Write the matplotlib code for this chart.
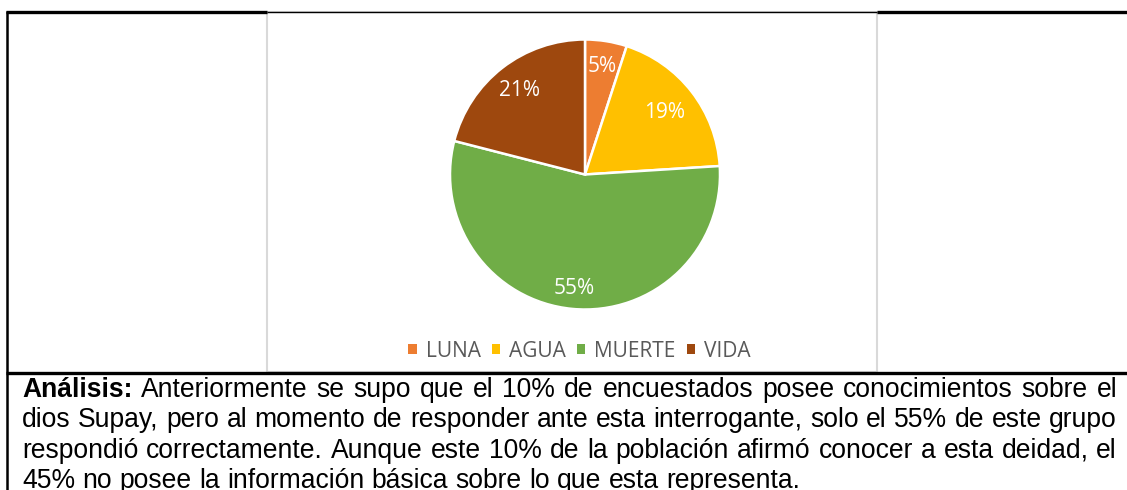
import matplotlib
matplotlib.use("Agg")
import matplotlib.pyplot as plt
from matplotlib.lines import Line2D
from matplotlib.patches import Rectangle, Patch
import math

# ---- data ----
categories = ["LUNA", "AGUA", "MUERTE", "VIDA"]
values = [5, 19, 55, 21]
colors = ["#ED7D31", "#FFC000", "#70AD47", "#9E480E"]

analysis_lines = [
    [("Análisis:", "bold"), "Anteriormente se supo que el 10% de encuestados posee conocimientos sobre el"],
    ["dios Supay, pero al momento de responder ante esta interrogante, solo el 55% de este grupo"],
    ["respondió correctamente. Aunque este 10% de la población afirmó conocer a esta deidad, el"],
    ["45% no posee la información básica sobre lo que esta representa."],
]

W, H = 1127, 490
DPI = 100
fig = plt.figure(figsize=(W / DPI, H / DPI), dpi=DPI)
fig.patch.set_facecolor("white")

def fx(x):
    return x / W

def fy(y):
    return 1 - y / H

# ---- pie ----
cx, cy, r = 585, 174.5, 135
half = 150
ax = fig.add_axes([fx(cx - half), fy(cy + half), 2 * half / W, 2 * half / H])
wedges, texts, autotexts = ax.pie(
    values, colors=colors, startangle=90, counterclock=False,
    wedgeprops=dict(edgecolor="white", linewidth=1.8),
    autopct=lambda p: f"{p:.0f}%", pctdistance=0.8,
    textprops=dict(color="white", fontsize=15, family="Open Sans"),
)
lim = half / r
ax.set_xlim(-lim, lim)
ax.set_ylim(-lim, lim)
ax.set_aspect("equal")
ax.axis("off")
label_dist = [0.81, 0.75, 0.85, 0.79]
cum = 0
for v, t, d in zip(values, autotexts, label_dist):
    mid = 90 - (cum + v / 2) / sum(values) * 360
    cum += v
    t.set_position((d * math.cos(math.radians(mid)), d * math.sin(math.radians(mid))))

# ---- legend ----
leg_fs = 15
em = leg_fs * DPI / 72
handles = [Patch(facecolor=c, edgecolor="none") for c in colors]
leg = fig.legend(
    handles, categories, loc="center", bbox_to_anchor=(fx(579.5), fy(351)),
    ncol=4, frameon=False,
    prop=dict(family="Open Sans", size=leg_fs),
    handlelength=8.5 / em, handleheight=8.5 / em,
    handletextpad=9 / em, columnspacing=11 / em, borderpad=0, borderaxespad=0,
)
for t in leg.get_texts():
    t.set_color("#595959")

# ---- borders ----
def hline(x0, x1, y, color, lw):
    fig.add_artist(Line2D([fx(x0), fx(x1)], [fy(y), fy(y)], color=color, lw=lw,
                          transform=fig.transFigure, solid_capstyle="butt"))

def vline(x, y0, y1, color, lw):
    fig.add_artist(Line2D([fx(x), fx(x)], [fy(y0), fy(y1)], color=color, lw=lw,
                          transform=fig.transFigure, solid_capstyle="butt"))

fig.add_artist(Rectangle((fx(267), fy(372)), (877 - 267) / W, (372 - 12.5) / H,
                         transform=fig.transFigure, facecolor="none",
                         edgecolor="#D9D9D9", lw=1.5))
hline(267, 877, 12, "black", 1.0)
hline(6, 267, 12, "black", 2.4)
hline(877, W, 12, "black", 2.4)
vline(7, 11, H, "black", 1.8)
hline(6, W, 373, "black", 2.4)

# ---- justified analysis text ----
fig.canvas.draw()
renderer = fig.canvas.get_renderer()

def text_width(s, size, weight="normal"):
    t = fig.text(0, 0, s, fontsize=size, family="Liberation Sans", weight=weight)
    w = t.get_window_extent(renderer).width
    t.remove()
    return w

base = 14.0
wlast = text_width(analysis_lines[-1][0], base)
fs = base * 785 / wlast

space_w = text_width("a a", fs) - text_width("aa", fs)

x_left, x_right = 22, 1117
baselines = [397, 427.3, 457.6, 488]

for li, (parts, yb) in enumerate(zip(analysis_lines, baselines)):
    words = []
    for p in parts:
        if isinstance(p, tuple):
            for w in p[0].split():
                words.append((w, p[1]))
        else:
            for w in p.split():
                words.append((w, "normal"))
    widths = [text_width(w, fs, wt) for w, wt in words]
    last = li == len(analysis_lines) - 1
    if last or len(words) < 2:
        gap = space_w
    else:
        gap = (x_right - x_left - sum(widths)) / (len(words) - 1)
    x = x_left
    for (w, wt), wd in zip(words, widths):
        fig.text(fx(x), fy(yb), w, fontsize=fs, family="Liberation Sans", weight=wt,
                 color="black", ha="left", va="baseline")
        x += wd + gap

fig.savefig("out.png", dpi=DPI, facecolor="white")
